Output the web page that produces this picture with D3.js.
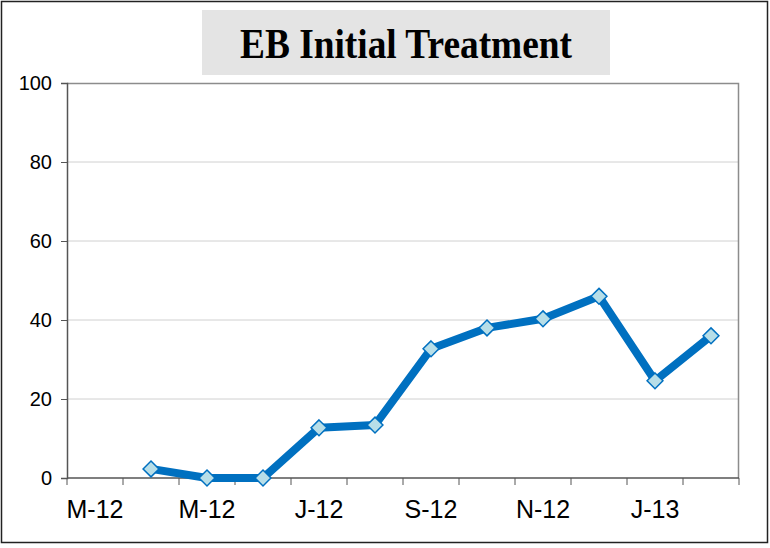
<!DOCTYPE html>
<html>
<head>
<meta charset="utf-8">
<script src="https://cdn.jsdelivr.net/npm/d3@7"></script>
<style>
    body { margin: 0; background: #fff; }
    svg text { font-family: "Liberation Sans", Arial, sans-serif; }
</style>
</head>
<body>
<div id="chart"></div>
<script>
// EB initial treatment, monthly, Mar-12 to Feb-13

const months = ["Mar-12", "Apr-12", "May-12", "Jun-12", "Jul-12", "Aug-12",
    "Sep-12", "Oct-12", "Nov-12", "Dec-12", "Jan-13", "Feb-13"];
const tickLabels = ["M-12", "", "M-12", "", "J-12", "", "S-12", "", "N-12", "", "J-13", ""];
const values = [null, 2.3, 0, 0, 12.7, 13.4, 32.7, 38, 40.3, 46, 24.6, 36];
const yTicks = [0, 20, 40, 60, 80, 100];

const svgWidth = 770;
const svgHeight = 548;

const margin = { top: 83, right: 31, bottom: 70, left: 67 };
const width = 739 - margin.left;
const height = 478 - margin.top;

const svg = d3.select("#chart")
    .append("svg")
    .attr("width", svgWidth)
    .attr("height", svgHeight);

// outer frame
svg.append("rect")
    .attr("x", 1.5)
    .attr("y", 1.5)
    .attr("width", 766)
    .attr("height", 541)
    .attr("fill", "#fff")
    .attr("stroke", "#222")
    .attr("stroke-width", 1.5);

// title box
svg.append("rect")
    .attr("x", 202)
    .attr("y", 10)
    .attr("width", 408)
    .attr("height", 65)
    .attr("fill", "#e4e4e4");

svg.append("text")
    .attr("x", 406)
    .attr("y", 58)
    .attr("text-anchor", "middle")
    .attr("textLength", 332)
    .attr("lengthAdjust", "spacingAndGlyphs")
    .style("font-family", "'Liberation Serif', 'Times New Roman', serif")
    .style("font-weight", "bold")
    .style("font-size", "42px")
    .text("EB Initial Treatment");

const chartGroup = svg.append("g")
    .attr("transform", `translate(${margin.left}, ${margin.top})`);

const xBand = d3.scaleBand()
    .domain(months)
    .range([0, width]);

const yLinearScale = d3.scaleLinear()
    .domain([0, 100])
    .range([height, 0]);

// gridlines
chartGroup.append("g")
    .selectAll("line")
    .data(yTicks.filter(d => d > 0 && d < 100))
    .enter()
    .append("line")
    .attr("x1", 0)
    .attr("x2", width)
    .attr("y1", d => yLinearScale(d))
    .attr("y2", d => yLinearScale(d))
    .attr("stroke", "#d0d0d0")
    .attr("stroke-width", 1);

// plot frame top and right
chartGroup.append("path")
    .attr("d", `M0,0.5H${width - 0.5}V${height}`)
    .attr("fill", "none")
    .attr("stroke", "#8c8c8c")
    .attr("stroke-width", 1.5);

// y axis
const leftAxis = d3.axisLeft(yLinearScale)
    .tickValues(yTicks)
    .tickSize(6)
    .tickPadding(9);

const yAxis = chartGroup.append("g")
    .call(leftAxis);
yAxis.select(".domain").attr("stroke", "#555").attr("stroke-width", 1.5);
yAxis.selectAll(".tick line").attr("stroke", "#555");
yAxis.selectAll("text")
    .style("font-size", "20px")
    .attr("fill", "#000");

// x axis, ticks between categories
const xTickPos = d3.range(months.length + 1).map(i => i * xBand.bandwidth());

const xAxis = chartGroup.append("g")
    .attr("transform", `translate(0, ${height})`);
xAxis.append("line")
    .attr("x1", 0)
    .attr("x2", width)
    .attr("stroke", "#555")
    .attr("stroke-width", 1.5);
xAxis.selectAll(".xtick")
    .data(xTickPos)
    .enter()
    .append("line")
    .attr("class", "xtick")
    .attr("x1", d => d)
    .attr("x2", d => d)
    .attr("y1", 0)
    .attr("y2", 7)
    .attr("stroke", "#555");
xAxis.selectAll(".xlabel")
    .data(months)
    .enter()
    .append("text")
    .attr("class", "xlabel")
    .attr("x", d => xBand(d) + xBand.bandwidth() / 2)
    .attr("y", 40)
    .attr("text-anchor", "middle")
    .style("font-size", "25px")
    .text((d, i) => tickLabels[i]);

// line
const points = months.map((m, i) => ({ month: m, value: values[i] }))
    .filter(d => d.value !== null);

const line = d3.line()
    .x(d => xBand(d.month) + xBand.bandwidth() / 2)
    .y(d => yLinearScale(d.value));

chartGroup.append("path")
    .datum(points)
    .attr("d", line)
    .attr("fill", "none")
    .attr("stroke", "#0070c0")
    .attr("stroke-width", 8)
    .attr("stroke-linejoin", "round");

// diamond markers
chartGroup.selectAll(".marker")
    .data(points)
    .enter()
    .append("path")
    .attr("class", "marker")
    .attr("d", d3.symbol().type(d3.symbolDiamond2).size(160))
    .attr("transform", d => `translate(${xBand(d.month) + xBand.bandwidth() / 2}, ${yLinearScale(d.value)})`)
    .attr("fill", "#b7dee8")
    .attr("stroke", "#0070c0")
    .attr("stroke-width", 1.5);
</script>
</body>
</html>
